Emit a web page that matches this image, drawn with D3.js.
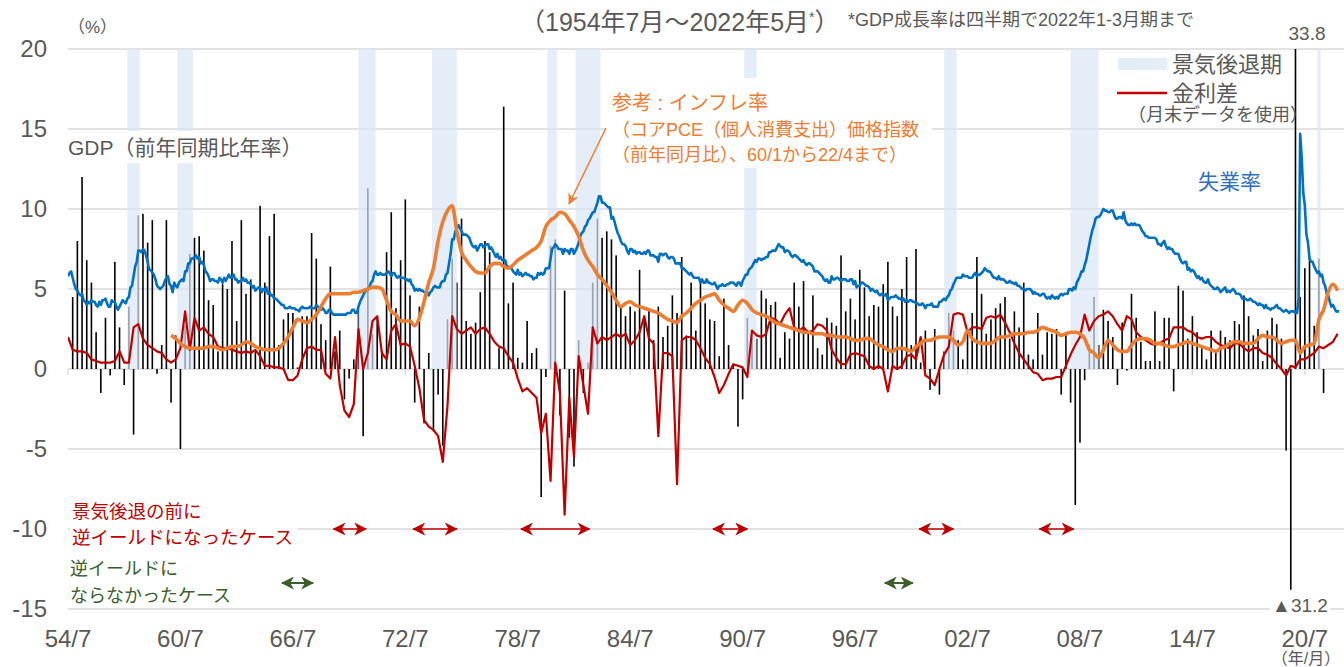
<!DOCTYPE html>
<html lang="ja">
<head>
<meta charset="UTF-8">
<title>米国の逆イールドと景気後退</title>
<script src="https://d3js.org/d3.v7.min.js"></script>
<style>
  body { margin: 0; background: #fff; }
  text { font-family: "Liberation Sans", "Noto Sans CJK JP", sans-serif; }
</style>
</head>
<body>
<script>
// 失業率（月次、1954/7〜2022/5）
var unemp = [
  5.8,6.0,6.1,5.7,5.3,5.0,
  4.9,4.7,4.6,4.7,4.3,4.2,4.0,4.2,4.1,4.3,4.2,4.2,
  4.0,3.9,4.2,4.0,4.3,4.3,4.4,4.1,3.9,3.9,4.3,4.2,
  4.2,3.9,3.7,3.9,4.1,4.3,4.2,4.1,4.4,4.5,5.1,5.2,
  5.8,6.4,6.7,7.4,7.4,7.3,7.5,7.4,7.1,6.7,6.2,6.2,
  6.0,5.9,5.6,5.2,5.1,5.0,5.1,5.2,5.5,5.7,5.8,5.3,
  5.2,4.8,5.4,5.2,5.1,5.4,5.5,5.6,5.5,6.1,6.1,6.6,
  6.6,6.9,6.9,7.0,7.1,6.9,7.0,6.6,6.7,6.5,6.1,6.0,
  5.8,5.5,5.6,5.6,5.5,5.5,5.4,5.7,5.6,5.4,5.7,5.5,
  5.7,5.9,5.7,5.7,5.9,5.6,5.6,5.4,5.5,5.5,5.7,5.5,
  5.6,5.4,5.4,5.3,5.1,5.2,4.9,5.0,5.1,5.1,4.8,5.0,
  4.9,5.1,4.7,4.8,4.6,4.6,4.4,4.4,4.3,4.2,4.1,4.0,
  4.0,3.8,3.8,3.8,3.9,3.8,3.8,3.8,3.7,3.7,3.6,3.8,
  3.9,3.8,3.8,3.8,3.8,3.9,3.8,3.8,3.8,4.0,3.9,3.8,
  3.7,3.8,3.7,3.5,3.5,3.7,3.7,3.5,3.4,3.4,3.4,3.4,
  3.4,3.4,3.4,3.4,3.4,3.5,3.5,3.5,3.7,3.7,3.5,3.5,
  3.9,4.2,4.4,4.6,4.8,4.9,5.0,5.1,5.4,5.5,5.9,6.1,
  5.9,5.9,6.0,5.9,5.9,5.9,6.0,6.1,6.0,5.8,6.0,6.0,
  5.8,5.7,5.8,5.7,5.7,5.7,5.6,5.6,5.5,5.6,5.3,5.2,
  4.9,5.0,4.9,5.0,4.9,4.9,4.8,4.8,4.8,4.6,4.8,4.9,
  5.1,5.2,5.1,5.1,5.1,5.4,5.5,5.5,5.9,6.0,6.6,7.2,
  8.1,8.1,8.6,8.8,9.0,8.8,8.6,8.4,8.4,8.4,8.3,8.2,
  7.9,7.7,7.6,7.7,7.4,7.6,7.8,7.8,7.6,7.7,7.8,7.8,
  7.5,7.6,7.4,7.2,7.0,7.2,6.9,7.0,6.8,6.8,6.8,6.4,
  6.4,6.3,6.3,6.1,6.0,5.9,6.2,5.9,6.0,5.8,5.9,6.0,
  5.9,5.9,5.8,5.8,5.6,5.7,5.7,6.0,5.9,6.0,5.9,6.0,
  6.3,6.3,6.3,6.9,7.5,7.6,7.8,7.7,7.5,7.5,7.5,7.2,
  7.5,7.4,7.4,7.2,7.5,7.5,7.2,7.4,7.6,7.9,8.3,8.5,
  8.6,8.9,9.0,9.3,9.4,9.6,9.8,9.8,10.1,10.4,10.8,10.8,
  10.4,10.4,10.3,10.2,10.1,10.1,9.4,9.5,9.2,8.8,8.5,8.3,
  8.0,7.8,7.8,7.7,7.4,7.2,7.5,7.5,7.3,7.4,7.2,7.3,
  7.3,7.2,7.2,7.3,7.2,7.4,7.4,7.1,7.1,7.1,7.0,7.0,
  6.7,7.2,7.2,7.1,7.2,7.2,7.0,6.9,7.0,7.0,6.9,6.6,
  6.6,6.6,6.6,6.3,6.3,6.2,6.1,6.0,5.9,6.0,5.8,5.7,
  5.7,5.7,5.7,5.4,5.6,5.4,5.4,5.6,5.4,5.4,5.3,5.3,
  5.4,5.2,5.0,5.2,5.2,5.3,5.2,5.2,5.3,5.3,5.4,5.4,
  5.4,5.3,5.2,5.4,5.4,5.2,5.5,5.7,5.9,5.9,6.2,6.3,
  6.4,6.6,6.8,6.7,6.9,6.9,6.8,6.9,6.9,7.0,7.0,7.3,
  7.3,7.4,7.4,7.4,7.6,7.8,7.7,7.6,7.6,7.3,7.4,7.4,
  7.3,7.1,7.0,7.1,7.1,7.0,6.9,6.8,6.7,6.8,6.6,6.5,
  6.6,6.6,6.5,6.4,6.1,6.1,6.1,6.0,5.9,5.8,5.6,5.5,
  5.6,5.4,5.4,5.8,5.6,5.6,5.7,5.7,5.6,5.5,5.6,5.6,
  5.6,5.5,5.5,5.6,5.6,5.3,5.5,5.1,5.2,5.2,5.4,5.4,
  5.3,5.2,5.2,5.1,4.9,5.0,4.9,4.8,4.9,4.7,4.6,4.7,
  4.6,4.6,4.7,4.3,4.4,4.5,4.5,4.5,4.6,4.5,4.4,4.4,
  4.3,4.4,4.2,4.3,4.2,4.3,4.3,4.2,4.2,4.1,4.1,4.0,
  4.0,4.1,4.0,3.8,4.0,4.0,4.0,4.1,3.9,3.9,3.9,3.9,
  4.2,4.2,4.3,4.4,4.3,4.5,4.6,4.9,5.0,5.3,5.5,5.7,
  5.7,5.7,5.7,5.9,5.8,5.8,5.8,5.7,5.7,5.7,5.9,6.0,
  5.8,5.9,5.9,6.0,6.1,6.3,6.2,6.1,6.1,6.0,5.8,5.7,
  5.7,5.6,5.8,5.6,5.6,5.6,5.5,5.4,5.4,5.5,5.4,5.4,
  5.3,5.4,5.2,5.2,5.1,5.0,5.0,4.9,5.0,5.0,5.0,4.9,
  4.7,4.8,4.7,4.7,4.6,4.6,4.7,4.7,4.5,4.4,4.5,4.4,
  4.6,4.5,4.4,4.5,4.4,4.6,4.7,4.6,4.7,4.7,4.7,5.0,
  5.0,4.9,5.1,5.0,5.4,5.6,5.8,6.1,6.1,6.5,6.8,7.3,
  7.8,8.3,8.7,9.0,9.4,9.5,9.5,9.6,9.8,10.0,9.9,9.9,
  9.8,9.8,9.9,9.9,9.6,9.4,9.4,9.5,9.5,9.4,9.8,9.3,
  9.1,9.0,9.0,9.1,9.0,9.1,9.0,9.0,9.0,8.8,8.6,8.5,
  8.3,8.3,8.2,8.2,8.2,8.2,8.2,8.1,7.8,7.8,7.7,7.9,
  8.0,7.7,7.5,7.6,7.5,7.5,7.3,7.2,7.2,7.2,6.9,6.7,
  6.6,6.7,6.7,6.2,6.3,6.1,6.2,6.1,5.9,5.7,5.8,5.6,
  5.7,5.5,5.4,5.4,5.6,5.3,5.2,5.1,5.0,5.0,5.1,5.0,
  4.8,4.9,5.0,5.1,4.8,4.9,4.8,4.9,5.0,4.9,4.7,4.7,
  4.7,4.6,4.4,4.4,4.4,4.3,4.3,4.4,4.3,4.2,4.2,4.1,
  4.0,4.1,4.0,4.0,3.8,4.0,3.8,3.8,3.7,3.8,3.8,3.9,
  4.0,3.8,3.8,3.7,3.6,3.6,3.7,3.6,3.5,3.6,3.6,3.6,
  3.5,3.5,4.4,14.7,13.2,11.0,10.2,8.4,7.9,6.9,6.7,6.7,
  6.4,6.2,6.0,6.1,5.8,5.9,5.4,5.2,4.7,4.6,4.2,3.9,
  4.0,3.8,3.6,3.6,3.6
];

// 金利差（四半期ごとに読み取り、1954/7〜2022/4）
var spread = [
  2.0,1.2,
  1.1,1.1,1.0,0.6,  0.5,0.4,0.4,0.4,  0.5,1.1,0.4,0.4,  2.6,2.8,1.9,1.5,
  1.3,1.1,1.0,0.6,  0.4,0.6,1.3,3.6,  1.2,3.2,2.4,2.6,  2.2,2.0,1.4,1.3,
  1.3,1.2,1.1,1.0,  1.1,1.0,1.2,0.8,  0.2,0.2,0.1,0.1,  0.0,-0.7,-0.7,-0.4,
  0.6,1.3,1.4,1.2,  1.2,-0.3,-0.6,2.0,  -1.0,-2.6,-3.0,-2.2,  2.5,0.0,1.0,3.0,
  3.3,1.0,0.6,2.4,  2.8,1.5,1.6,1.4,  0.2,-1.2,-3.2,-3.6,  -3.8,-4.2,-5.8,-2.3,
  3.3,2.5,2.2,2.4,  2.6,2.2,2.5,2.6,  2.2,1.7,1.4,1.3,  0.8,0.4,-0.6,-1.4,
  -1.2,-1.5,-1.8,-4.0,  -2.8,-7.0,0.4,-1.5,  -9.1,-1.8,-5.5,0.8,  -1.0,-2.8,2.6,1.6,
  2.0,1.8,2.0,2.2,  2.0,2.2,1.5,1.8,  2.3,3.3,1.9,1.6,  -4.2,1.0,1.0,0.8,
  -7.2,1.8,2.0,2.0,  1.8,1.3,0.7,0.3,  -0.5,-1.5,-1.0,-0.3,  0.3,0.2,0.1,-0.5,
  2.4,2.1,2.0,2.2,  3.2,3.1,2.8,3.4,  3.8,2.6,2.4,2.6,  2.3,2.4,2.8,2.7,
  2.4,1.2,0.7,0.3,  0.3,0.9,1.0,0.9,  0.8,0.2,0.0,0.2,  0.0,-1.4,0.2,0.0,
  0.2,0.8,0.9,0.6,  2.0,-0.4,-0.6,-1.0,  0.0,0.9,1.4,3.4,  3.5,3.4,2.3,2.6,
  2.6,2.5,3.2,3.3,  3.2,3.4,2.9,2.3,  1.6,1.0,0.6,0.2,  -0.2,-0.3,-0.7,-0.6,
  -0.6,-0.5,-0.5,0.2,  0.9,1.5,2.0,3.4,  2.4,3.0,3.3,3.4,  3.6,3.3,2.8,2.4,
  3.3,3.1,2.3,2.0,  1.8,1.6,1.5,1.6,  1.8,1.9,2.6,2.6,  2.6,2.4,2.3,2.0,
  1.9,2.0,2.0,1.7,  1.5,1.4,1.3,1.6,  1.6,1.3,1.1,1.3,  1.3,1.0,0.9,0.7,
  0.3,0.0,-0.4,0.2,  0.1,0.6,0.6,0.8,  1.0,1.4,1.3,1.5,
  1.7,2.2
];

// インフレ率：コアPCE価格指数 前年同月比（四半期ごと、1960/1〜2022/4）
var corePce = [
  2.1,1.9,1.6,1.4,  1.3,1.3,1.3,1.3,  1.4,1.4,1.3,1.2,  1.3,1.4,1.4,1.5,
  1.7,1.6,1.4,1.3,  1.2,1.2,1.2,1.3,  1.6,2.0,2.6,3.1,  3.0,2.9,3.1,3.4,
  3.9,4.4,4.7,4.7,  4.7,4.7,4.7,4.8,  4.8,4.9,5.0,5.1,  5.1,5.0,4.3,3.6,
  3.4,3.0,3.0,3.0,  2.7,3.2,4.2,5.4,  6.3,8.0,9.2,9.9,  10.2,8.6,7.3,6.8,
  6.4,6.1,6.0,6.0,  6.4,6.6,6.6,6.4,  6.3,6.5,6.8,7.0,  7.2,7.4,7.6,8.0,
  8.9,9.3,9.5,9.8,  9.7,9.3,8.9,8.3,  7.4,6.8,6.4,5.9,  5.6,5.2,4.8,4.3,
  3.9,4.1,4.2,4.0,  3.9,3.8,3.7,3.6,  3.5,3.3,3.1,3.0,  2.9,3.3,3.5,3.8,
  4.1,4.3,4.5,4.6,  4.7,4.3,4.0,3.8,  3.6,4.0,4.3,4.1,  3.7,3.5,3.4,3.3,
  3.1,2.9,2.8,2.7,  2.6,2.5,2.4,2.3,  2.3,2.2,2.2,2.2,  2.1,2.1,2.0,2.0,
  2.0,1.9,1.8,1.8,  1.9,1.9,1.7,1.5,  1.4,1.2,1.1,1.3,  1.3,1.2,1.1,1.4,
  1.6,1.8,1.8,1.9,  2.0,2.0,2.0,1.8,  1.5,1.7,2.4,1.9,  1.7,1.6,1.6,1.6,
  1.8,2.0,2.0,2.1,  2.2,2.2,2.2,2.3,  2.3,2.4,2.6,2.5,  2.4,2.3,2.1,2.2,
  2.3,2.3,2.2,1.9,  1.2,1.0,0.7,1.2,  1.8,1.5,1.2,1.1,  1.1,1.5,1.8,1.9,
  1.9,1.8,1.6,1.6,  1.5,1.4,1.4,1.5,  1.6,1.7,1.6,1.5,  1.4,1.3,1.2,1.1,
  1.3,1.4,1.6,1.7,  1.7,1.6,1.6,1.6,  1.9,2.1,2.0,2.0,  1.8,1.6,1.7,1.8,
  1.8,1.0,1.4,1.5,  1.6,3.1,3.7,4.8,
  5.3,4.9
];

// 実質GDP成長率（前期比年率、1954年7-9月期〜2022年1-3月期）
var gdpGrowth = [
  4.5,8.0,
  12.0,6.8,5.4,2.3,  -1.5,3.2,-0.4,6.7,  2.6,-1.0,3.9,-4.1,  null,null,9.6,9.7,
  7.9,9.3,-0.3,1.5,  9.3,-2.1,2.1,-5.0,  2.7,7.2,8.2,8.3,  7.4,4.3,4.0,1.1,
  5.3,5.0,8.0,3.0,  9.3,4.7,5.6,1.2,  10.2,5.4,8.3,9.7,  null,1.5,3.1,3.5,
  3.5,0.1,3.3,3.3,  8.5,6.9,2.8,1.8,  6.4,1.1,2.4,-1.9,  -0.6,0.6,3.7,-4.2,
  11.3,2.2,3.2,1.1,  7.3,9.8,3.8,6.8,  10.6,4.6,-2.1,3.9,  -3.4,1.0,-3.9,-1.6,
  -4.8,3.1,6.9,5.4,  9.4,3.0,2.2,2.9,  4.8,8.0,7.3,0.0,  1.3,16.4,4.1,5.4,
  0.7,0.4,3.0,1.0,  1.3,-8.0,-0.5,7.7,  8.1,-2.9,4.9,-4.3,  -6.1,1.8,-1.5,0.4,
  5.4,9.4,8.2,8.6,  8.1,7.1,3.9,3.3,  3.9,3.6,6.2,3.0,  3.8,1.8,3.9,2.0,
  2.7,4.6,3.5,7.0,  2.1,5.4,2.4,5.4,  4.1,3.1,3.0,0.8,  4.4,1.5,0.3,-3.6,
  -1.9,3.2,2.0,1.9,  4.9,4.4,4.0,4.2,  0.7,2.3,1.9,5.4,  3.9,5.5,2.3,4.6,
  1.3,0.9,3.2,2.9,  2.7,7.1,3.6,4.4,  3.1,6.2,5.1,3.3,  4.0,3.9,5.3,6.7,
  3.9,3.3,5.0,7.0,  1.5,7.5,0.4,2.4,  -1.3,2.5,-1.6,1.1,  3.5,2.4,1.8,0.6,
  2.2,3.5,7.0,4.7,  2.2,3.1,3.8,4.1,  4.5,1.9,3.6,2.6,  5.4,0.9,0.6,3.5,
  0.9,2.3,2.2,2.5,  -1.6,2.3,-2.1,-8.5,  -4.6,-0.7,1.5,4.5,  1.5,3.7,3.0,2.0,
  -1.0,2.9,-0.1,4.7,  3.2,1.7,0.5,0.5,  3.6,0.5,3.2,3.2,  -1.4,5.2,4.9,1.9,
  3.3,2.3,1.3,0.6,  2.4,1.2,2.4,2.0,  1.8,3.0,2.8,4.6,  3.3,2.1,2.5,0.5,
  2.4,3.2,2.8,1.9,  -5.1,-31.2,33.8,4.5,  6.3,7.0,2.7,6.9,
  -1.5
];

// 景気後退期（山の月〜谷の月）
var recessions = [
  ["1957/8","1958/4"], ["1960/4","1961/2"], ["1969/12","1970/11"],
  ["1973/11","1975/3"], ["1980/1","1980/7"], ["1981/7","1982/11"],
  ["1990/7","1991/3"], ["2001/3","2001/11"], ["2007/12","2009/6"],
  ["2021/2","2021/4"]
];

// 逆イールド期間の矢印（開始〜終了）
var invertedBeforeRecession = [
  ["1968/8","1970/5"], ["1972/11","1975/3"], ["1978/8","1982/4"],
  ["1988/11","1990/9"], ["1999/11","2001/9"], ["2006/4","2008/2"]
];
var invertedNoRecession = [["1965/11","1967/7"], ["1998/1","1999/7"]];

var yTicks = [20, 15, 10, 5, 0, -5, -10, -15];
var xTickLabels = ["54/7","60/7","66/7","72/7","78/7","84/7","90/7","96/7","02/7","08/7","14/7","20/7"];

var w = 1344;
var h = 667;
var left = 68;
var pxPerYear = 18.74;
var gray = "#595959";

function ym(s) {
  var p = s.split("/");
  return +p[0] + (+p[1]) / 12;
}

var svg = d3.select("body")
  .append("svg")
  .attr("width", w)
  .attr("height", h);

var xScale = d3.scaleLinear()
  .domain([1954.5, 2022.4])
  .range([left, left + (2022.4 - 1954.5) * pxPerYear]);

var yScale = d3.scaleLinear()
  .domain([-15, 20])
  .range([609, 49]);

var defs = svg.append("defs");
defs.append("clipPath").attr("id", "plot")
  .append("rect")
  .attr("x", left).attr("y", yScale(20))
  .attr("width", w - left).attr("height", yScale(-15) - yScale(20));

[["arrRed", "#c00000", 13], ["arrGreen", "#3b5e2b", 13], ["arrOrange", "#ed7d31", 11]].forEach(function (m) {
  defs.append("marker")
    .attr("id", m[0])
    .attr("viewBox", "0 0 14 14")
    .attr("refX", 13).attr("refY", 7)
    .attr("markerWidth", m[2]).attr("markerHeight", m[2])
    .attr("markerUnits", "userSpaceOnUse")
    .attr("orient", "auto-start-reverse")
    .append("path")
    .attr("d", "M0,0 L14,7 L0,14 L4,7 Z")
    .attr("fill", m[1]);
});

// gridlines
svg.selectAll(".grid")
  .data(yTicks)
  .enter()
  .append("line")
  .attr("x1", left).attr("x2", w)
  .attr("y1", function (d) { return yScale(d); })
  .attr("y2", function (d) { return yScale(d); })
  .attr("stroke", "#d9d9d9")
  .attr("stroke-width", 1.3);

// tick marks on the zero axis
svg.selectAll(".xtick")
  .data(xTickLabels)
  .enter()
  .append("line")
  .attr("x1", function (d, i) { return xScale(1954.5 + 6 * i); })
  .attr("x2", function (d, i) { return xScale(1954.5 + 6 * i); })
  .attr("y1", yScale(0)).attr("y2", yScale(0) + 6)
  .attr("stroke", "#d9d9d9")
  .attr("stroke-width", 1.3);

// GDP bars (clipped where they run off the chart)
svg.append("g")
  .selectAll("rect")
  .data(gdpGrowth)
  .enter()
  .filter(function (d) { return d !== null; })
  .append("rect")
  .attr("x", function (d, i) { return xScale(1954.75 + i * 0.25) - 0.8; })
  .attr("y", function (d) { return yScale(Math.min(Math.max(d, -13.8), 20) > 0 ? Math.min(d, 20) : 0); })
  .attr("width", 1.6)
  .attr("height", function (d) {
    var v = Math.min(Math.max(d, -13.8), 20);
    return Math.abs(yScale(v) - yScale(0));
  })
  .attr("fill", "#000");

// recession shading, drawn over the bars
svg.append("g")
  .selectAll("rect")
  .data(recessions)
  .enter()
  .append("rect")
  .attr("x", function (d) { return xScale(ym(d[0])); })
  .attr("y", yScale(20))
  .attr("width", function (d) { return xScale(ym(d[1])) - xScale(ym(d[0])); })
  .attr("height", yScale(0) - yScale(20))
  .attr("fill", "#dae7f5")
  .attr("opacity", 0.7);

// white boxes behind the annotations
var boxes = [[66, 131, 236, 32], [606, 78, 326, 90], [70, 500, 228, 50]];
svg.selectAll(".box")
  .data(boxes)
  .enter()
  .append("rect")
  .attr("x", function (d) { return d[0]; })
  .attr("y", function (d) { return d[1]; })
  .attr("width", function (d) { return d[2]; })
  .attr("height", function (d) { return d[3]; })
  .attr("fill", "#fff");

var lines = svg.append("g").attr("clip-path", "url(#plot)");

var spreadLine = d3.line()
  .x(function (d, i) { return xScale(1954.5 + i * 0.25); })
  .y(function (d) { return yScale(d); });
lines.append("path")
  .datum(spread)
  .attr("d", spreadLine)
  .attr("fill", "none")
  .attr("stroke", "#c00000")
  .attr("stroke-width", 2.2)
  .attr("stroke-linejoin", "round");

var unempLine = d3.line()
  .x(function (d, i) { return xScale(1954.5 + i / 12); })
  .y(function (d) { return yScale(d); });
lines.append("path")
  .datum(unemp)
  .attr("d", unempLine)
  .attr("fill", "none")
  .attr("stroke", "#0070c0")
  .attr("stroke-width", 2.6)
  .attr("stroke-linejoin", "round");

var pceLine = d3.line()
  .curve(d3.curveMonotoneX)
  .x(function (d, i) { return xScale(1960 + i * 0.25); })
  .y(function (d) { return yScale(d); });
lines.append("path")
  .datum(corePce)
  .attr("d", pceLine)
  .attr("fill", "none")
  .attr("stroke", "#ed7d31")
  .attr("stroke-width", 3.6)
  .attr("stroke-linejoin", "round");

// inversion arrows
svg.selectAll(".arrRed")
  .data(invertedBeforeRecession)
  .enter()
  .append("line")
  .attr("x1", function (d) { return xScale(ym(d[0])); })
  .attr("x2", function (d) { return xScale(ym(d[1])); })
  .attr("y1", yScale(-10)).attr("y2", yScale(-10))
  .attr("stroke", "#c00000")
  .attr("stroke-width", 1.5)
  .attr("marker-start", "url(#arrRed)")
  .attr("marker-end", "url(#arrRed)");

svg.selectAll(".arrGreen")
  .data(invertedNoRecession)
  .enter()
  .append("line")
  .attr("x1", function (d) { return xScale(ym(d[0])); })
  .attr("x2", function (d) { return xScale(ym(d[1])); })
  .attr("y1", 583).attr("y2", 583)
  .attr("stroke", "#3b5e2b")
  .attr("stroke-width", 2)
  .attr("marker-start", "url(#arrGreen)")
  .attr("marker-end", "url(#arrGreen)");

// axis labels
svg.selectAll(".ylab")
  .data(yTicks)
  .enter()
  .append("text")
  .attr("x", 47)
  .attr("y", function (d) { return yScale(d) + 8; })
  .attr("text-anchor", "end")
  .attr("font-size", 24)
  .attr("fill", gray)
  .text(function (d) { return d; });

svg.selectAll(".xlab")
  .data(xTickLabels)
  .enter()
  .append("text")
  .attr("x", function (d, i) { return xScale(1954.5 + 6 * i); })
  .attr("y", 647)
  .attr("text-anchor", "middle")
  .attr("font-size", 24)
  .attr("fill", gray)
  .text(function (d) { return d; });

function label(x, y, size, color, str, anchor) {
  return svg.append("text")
    .attr("x", x).attr("y", y)
    .attr("font-size", size)
    .attr("fill", color)
    .attr("text-anchor", anchor || "start")
    .text(str);
}

label(1306, 664, 16, gray, "（年/月）", "middle");
label(68, 33, 17, gray, "（%）");

var title = label(520, 31, 25, gray, "（1954年7月～2022年5月");
title.append("tspan").attr("font-size", 14).attr("dy", -9).text("*");
title.append("tspan").attr("dy", 9).text("）");
label(848, 26, 18, gray, "*GDP成長率は四半期で2022年1-3月期まで");

label(68, 155, 21, gray, "GDP（前年同期比年率）");
label(1198, 189, 21, "#2f6fc0", "失業率");

// legend
svg.append("rect").attr("x", 1118).attr("y", 58).attr("width", 49).attr("height", 12).attr("fill", "#dae7f5").attr("opacity", 0.7);
label(1172, 72, 22, gray, "景気後退期");
svg.append("line").attr("x1", 1117).attr("x2", 1167).attr("y1", 93).attr("y2", 93).attr("stroke", "#c00000").attr("stroke-width", 2.5);
label(1172, 101, 22, gray, "金利差");
label(1128, 121, 18, gray, "（月末データを使用）");

// inflation note and arrow
label(612, 110, 20, "#ed7d31", "参考 : インフレ率");
label(612, 136, 18, "#ed7d31", "（コアPCE（個人消費支出）価格指数");
label(612, 161, 18, "#ed7d31", "（前年同月比）、60/1から22/4まで）");
svg.append("line")
  .attr("x1", 606).attr("y1", 128).attr("x2", 569).attr("y2", 204)
  .attr("stroke", "#ed7d31").attr("stroke-width", 1.5)
  .attr("marker-end", "url(#arrOrange)");

// off-scale GDP values
label(1307, 40, 19, gray, "33.8", "middle");
svg.append("rect").attr("x", 1270).attr("y", 597).attr("width", 60).attr("height", 18).attr("fill", "#fff");
label(1300, 612, 19, gray, "▲31.2", "middle");

// inversion notes
label(72, 518, 18.5, "#c00000", "景気後退の前に");
label(72, 544, 18.5, "#c00000", "逆イールドになったケース");
label(70, 575, 18, "#3b5e2b", "逆イールドに");
label(70, 602, 18, "#3b5e2b", "ならなかったケース");
</script>
</body>
</html>
